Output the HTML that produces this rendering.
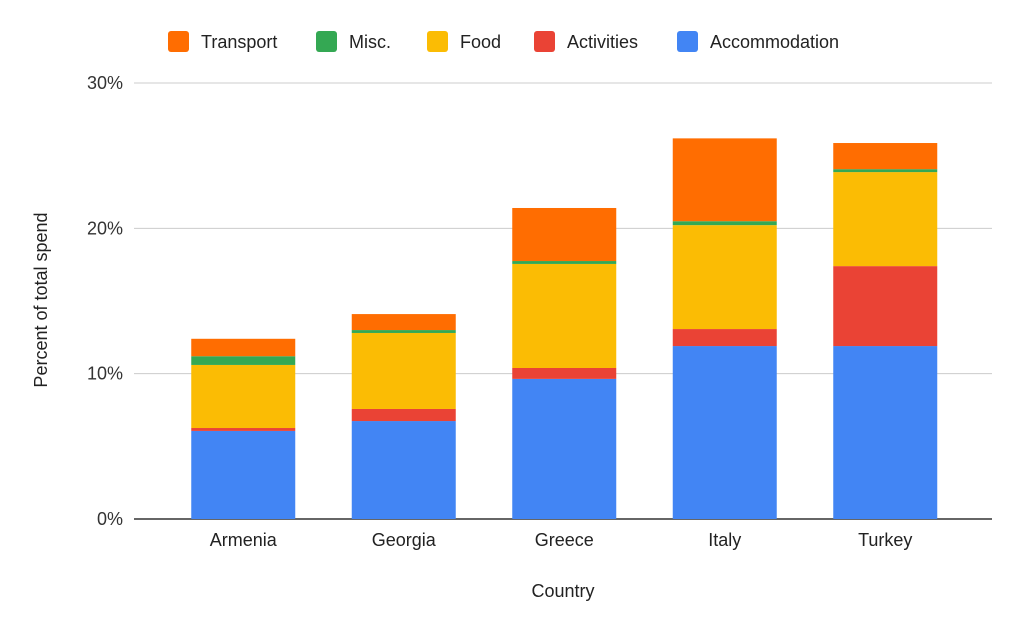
<!DOCTYPE html>
<html><head><meta charset="utf-8">
<style>
html,body{margin:0;padding:0;background:#fff;}
svg{display:block;font-family:"Liberation Sans",Arial,sans-serif;}
</style></head>
<body>
<svg id="chart" width="1024" height="633" viewBox="0 0 1024 633" xmlns="http://www.w3.org/2000/svg">
<rect width="1024" height="633" fill="#fff"/>
<g id="grid"></g>
<g id="bars"></g>
<g id="legend"></g>
<text transform="translate(47,300) rotate(-90)" text-anchor="middle" font-size="18" fill="#222">Percent of total spend</text>
<text x="563" y="597" text-anchor="middle" font-size="18" fill="#222">Country</text>
</svg>
<script>
const categories = ["Armenia","Georgia","Greece","Italy","Turkey"];
const seriesNames = ["Accommodation","Activities","Food","Misc.","Transport"];
const accommodation = [6.06,6.74,9.64,11.9,11.9];
const activities = [0.2,0.83,0.75,1.17,5.5];
const food = [4.34,5.23,7.16,7.15,6.47];
const misc = [0.6,0.2,0.2,0.27,0.2];
const transport = [1.2,1.1,3.65,5.7,1.8];
const yTicks = [0,10,20,30];
const yTickLabels = ["0%","10%","20%","30%"];
const legendOrder = ["Transport","Misc.","Food","Activities","Accommodation"];

const colors = {"Accommodation":"#4285f4","Activities":"#ea4335","Food":"#fbbc04","Misc.":"#34a853","Transport":"#ff6d01"};
const seriesVals = {"Accommodation":accommodation,"Activities":activities,"Food":food,"Misc.":misc,"Transport":transport};
const NS="http://www.w3.org/2000/svg";
const plotL=134, plotR=992, y0=519, pxPer=(519-83)/30;
const yScale=v=>y0-v*pxPer;
const barsL=163, band=160.5;
const barW=104;
const xCenter=i=>barsL+band*(i+0.5);
function mk(tag,attrs,parent){const e=document.createElementNS(NS,tag);for(const k in attrs)e.setAttribute(k,attrs[k]);parent.appendChild(e);return e;}

const grid=document.getElementById('grid');
yTicks.forEach((t,i)=>{
  const y=yScale(t);
  const l=mk('line',{x1:plotL,x2:plotR,y1:y,y2:y,stroke:t===0?'#333':'#ccc','stroke-width':t===0?1.5:1},grid);
  
  
  const tx=mk('text',{x:123,y:y+6,'text-anchor':'end','font-size':18,fill:'#333'},grid);
  tx.textContent=yTickLabels[i];
  
  
});

const bars=document.getElementById('bars');
categories.forEach((c,i)=>{
  let acc=0;const cx=xCenter(i);
  seriesNames.forEach(s=>{
    const v=seriesVals[s][i];
    const r=mk('rect',{x:cx-barW/2,y:yScale(acc+v),width:barW,height:v*pxPer,fill:colors[s]},bars);
    
    
    acc+=v;
  });
  const t=mk('text',{x:cx,y:546,'text-anchor':'middle','font-size':18,fill:'#222'},bars);
  t.textContent=c;
  
  
});

const legend=document.getElementById('legend');
const legX=[168,316,427,534,677];
legendOrder.forEach((s,i)=>{
  const g=mk('g',{},legend);
  
  
  mk('rect',{x:legX[i],y:31,width:21,height:21,rx:3,fill:colors[s]},g);
  const t=mk('text',{x:legX[i]+33,y:48,'font-size':18,fill:'#222'},g);
  t.textContent=s;
});
</script>
</body></html>
